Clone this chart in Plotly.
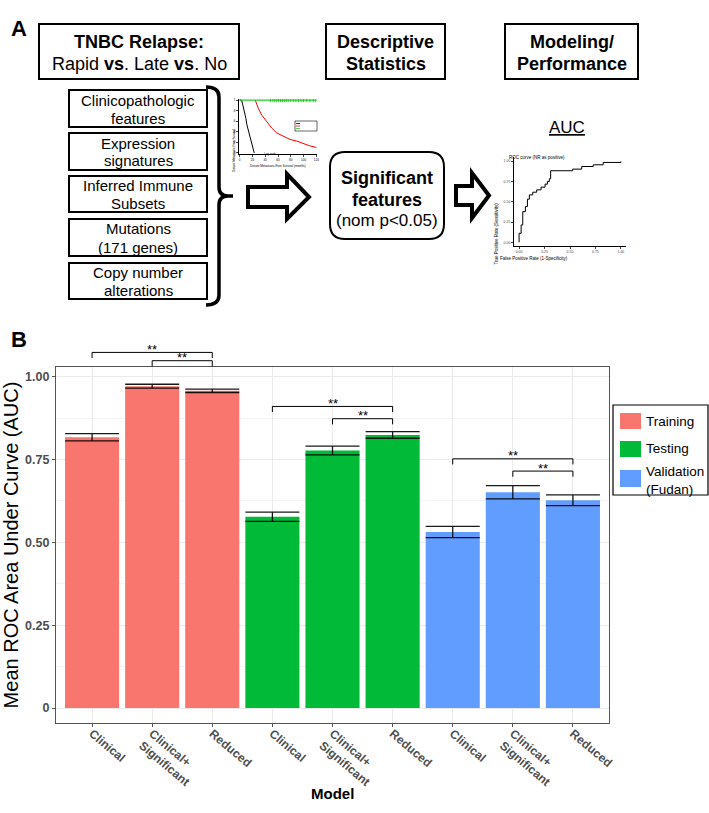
import plotly.graph_objects as go

W, H = 709, 813
FONT = "Liberation Sans, Arial, Helvetica, sans-serif"

# ---------------- Panel B data ----------------
models = ["Clinical", "Clinical+<br>Significant", "Reduced"]
datasets = ["Training", "Testing", "Validation<br>(Fudan)"]
bar_colors = ["#F8766D", "#00BA38", "#619CFF"]
auc_training = [0.817, 0.971, 0.957]
auc_testing = [0.577, 0.777, 0.824]
auc_validation = [0.531, 0.651, 0.627]
err_training = [0.011, 0.006, 0.005]
err_testing = [0.014, 0.013, 0.010]
err_validation = [0.017, 0.020, 0.016]
y_tickvals = [0, 0.25, 0.5, 0.75, 1.0]
y_ticktext = ["0", "0.25", "0.50", "0.75", "1.00"]
y_minor = [0.125, 0.375, 0.625, 0.875]
# significance brackets: left bar, right bar, bracket height, label
sig_left = [0, 1, 3, 4, 6, 7]
sig_right = [2, 2, 5, 5, 8, 8]
sig_y = [1.073, 1.048, 0.910, 0.873, 0.752, 0.715]
sig_label = ["**", "**", "**", "**", "**", "**"]
sig_tip = 0.017

# ---------------- Panel A mini plots data ----------------
km_t_rapid = [0, 3, 5.2, 7.8, 9.8, 11.4, 13.4, 15.5, 19.1, 22.8]
km_s_rapid = [1, 1, 0.896, 0.774, 0.652, 0.53, 0.439, 0.317, 0.195, 0.0]
km_t_late = [24.4, 29.5, 34.7, 42.4, 50.2, 58, 68.3, 78.6, 88.9, 99.4, 109.7, 120]
km_s_late = [1, 0.835, 0.713, 0.591, 0.47, 0.378, 0.317, 0.256, 0.226, 0.177, 0.134, 0.104]
km_t_no = [0, 120]
km_s_no = [1, 1]
km_censor_no = [48, 52, 55, 58, 61, 64, 67, 70, 73, 76, 80, 84, 88, 92, 96, 100, 105, 110, 115, 119]

roc_fpr = [0, 0.02, 0.036, 0.062, 0.082, 0.101, 0.134, 0.173, 0.216, 0.255, 0.278,
           0.297, 0.31, 0.526, 0.615, 0.728, 0.826, 1.0, 1.0]
roc_tpr = [0, 0.111, 0.214, 0.378, 0.44, 0.531, 0.584, 0.617, 0.646, 0.679, 0.716,
           0.749, 0.782, 0.881, 0.901, 0.933, 0.954, 0.983, 0.995]


def px(x):
    return x / W


def py(y):
    return 1 - y / H


def P(x, y):
    return f"{px(x):.5f},{py(y):.5f}"


# main plot geometry
XDOM = [px(56), px(609)]
YDOM = [py(723), py(367)]
YR = [-0.045, 1.029]
XR = [-0.6, 8.6]


def ypaper(v):
    return YDOM[0] + (v - YR[0]) / (YR[1] - YR[0]) * (YDOM[1] - YDOM[0])


fig = go.Figure()

auc_all = [auc_training, auc_testing, auc_validation]
err_all = [err_training, err_testing, err_validation]
for g, (name, col, vals, errs) in enumerate(zip(datasets, bar_colors, auc_all, err_all)):
    xs = [g * len(models) + i for i in range(len(models))]
    fig.add_trace(go.Bar(
        x=xs, y=vals, name=name, marker=dict(color=col, line=dict(width=0)),
        width=0.9, offset=-0.45, xaxis="x", yaxis="y",
        error_y=dict(type="data", array=errs, color="rgba(0,0,0,0.9)",
                     thickness=1.3, width=27),
        showlegend=False,
    ))

# KM mini plot
fig.add_trace(go.Scatter(x=km_t_rapid, y=km_s_rapid, mode="lines",
                         line=dict(color="black", width=1), xaxis="x2", yaxis="y2",
                         showlegend=False, hoverinfo="skip"))
fig.add_trace(go.Scatter(x=km_t_late, y=km_s_late, mode="lines",
                         line=dict(color="red", width=1), xaxis="x2", yaxis="y2",
                         showlegend=False, hoverinfo="skip"))
fig.add_trace(go.Scatter(x=km_t_no, y=km_s_no, mode="lines",
                         line=dict(color="#22cc22", width=1.2), xaxis="x2", yaxis="y2",
                         showlegend=False, hoverinfo="skip"))
fig.add_trace(go.Scatter(x=km_censor_no, y=[1] * len(km_censor_no), mode="markers",
                         marker=dict(symbol="line-ns", size=3, color="#22cc22",
                                     line=dict(width=1, color="#22cc22")),
                         xaxis="x2", yaxis="y2", showlegend=False, hoverinfo="skip"))

# ROC mini plot
fig.add_trace(go.Scatter(x=roc_fpr, y=roc_tpr, mode="lines", line_shape="vh",
                         line=dict(color="black", width=1), xaxis="x3", yaxis="y3",
                         showlegend=False, hoverinfo="skip"))

shapes = []
annos = []

# significance brackets
for l, r, yv, lab in zip(sig_left, sig_right, sig_y, sig_label):
    y1 = ypaper(yv)
    y0 = ypaper(yv - sig_tip)
    shapes.append(dict(type="path", xref="x", yref="paper",
                       path=f"M {l},{y0:.5f} L {l},{y1:.5f} L {r},{y1:.5f} L {r},{y0:.5f}",
                       line=dict(color="black", width=1)))
    annos.append(dict(x=(l + r) / 2, y=y1, xref="x", yref="paper", text=lab,
                      showarrow=False, yanchor="middle", yshift=3,
                      font=dict(size=13, color="black", family=FONT)))

# ---------------- Panel A drawing ----------------
LW = 2


def rect(x0, y0, x1, y1, w=LW, fill="rgba(0,0,0,0)", lc="black"):
    shapes.append(dict(type="rect", xref="paper", yref="paper",
                       x0=px(x0), x1=px(x1), y0=py(y1), y1=py(y0),
                       line=dict(color=lc, width=w), fillcolor=fill))


def text(x, y, t, size, bold=False, anchor="center", align="center"):
    annos.append(dict(x=px(x), y=py(y), xref="paper", yref="paper",
                      text=f"<b>{t}</b>" if bold else t, showarrow=False,
                      xanchor=anchor, yanchor="middle", align=align,
                      font=dict(size=size, color="black", family=FONT)))


rect(39, 24, 239, 79)
rect(326, 24, 445, 79)
rect(505, 24, 638, 79)
text(139, 42, "TNBC Relapse:", 18, bold=True)
text(139, 64, "Rapid <b>vs</b>. Late <b>vs</b>. No", 18)
text(385.5, 42, "Descriptive", 18, bold=True)
text(385.5, 64, "Statistics", 18, bold=True)
text(571.5, 42, "Modeling/", 18, bold=True)
text(571.5, 64, "Performance", 18, bold=True)

small_boxes = [(90, 127), (133, 170), (176, 212), (219, 256), (263, 299)]
small_text = [("Clinicopathologic", "features"), ("Expression", "signatures"),
              ("Inferred Immune", "Subsets"), ("Mutations", "(171 genes)"),
              ("Copy number", "alterations")]
for (y0, y1), (t1, t2) in zip(small_boxes, small_text):
    rect(69, y0, 207, y1)
    c = (y0 + y1) / 2
    text(138, c - 8.5, t1, 15)
    text(138, c + 9.5, t2, 15)

# bracket
shapes.append(dict(type="path", xref="paper", yref="paper",
                   path=(f"M {P(206,87)} Q {P(219,87)} {P(219,97)} L {P(219,187)} "
                         f"Q {P(219,196)} {P(228,196)} L {P(233,196)} "
                         f"M {P(228,196)} Q {P(219,196)} {P(219,205)} L {P(219,295)} "
                         f"Q {P(219,305)} {P(206,305)}"),
                   line=dict(color="black", width=3.5)))


def arrow(pts):
    path = "M " + " L ".join(P(x, y) for x, y in pts) + " Z"
    shapes.append(dict(type="path", xref="paper", yref="paper", path=path,
                       line=dict(color="black", width=4), fillcolor="white"))


arrow([(248, 187), (287, 187), (287, 174), (309, 197), (287, 219), (287, 207), (248, 207)])
arrow([(456, 186), (472, 186), (472, 173), (489, 195.5), (472, 218), (472, 205), (456, 205)])

# rounded box
x0, y0, x1, y1, r = 330, 152, 444, 239, 15
shapes.append(dict(type="path", xref="paper", yref="paper",
                   path=(f"M {P(x0+r,y0)} L {P(x1-r,y0)} Q {P(x1,y0)} {P(x1,y0+r)} "
                         f"L {P(x1,y1-r)} Q {P(x1,y1)} {P(x1-r,y1)} L {P(x0+r,y1)} "
                         f"Q {P(x0,y1)} {P(x0,y1-r)} L {P(x0,y0+r)} Q {P(x0,y0)} {P(x0+r,y0)} Z"),
                   line=dict(color="black", width=2)))
text(387, 178, "Significant", 18, bold=True)
text(387, 199.5, "features", 18, bold=True)
text(387, 221, "(nom p&lt;0.05)", 17)

text(567, 127, "<u>AUC</u>", 17)

# KM mini legend + labels
rect(295, 121, 317, 131, w=0.6)
for yy, cc in [(123.5, "black"), (126, "red"), (128.5, "#22cc22")]:
    shapes.append(dict(type="line", xref="paper", yref="paper", x0=px(296), x1=px(300),
                       y0=py(yy), y1=py(yy), line=dict(color=cc, width=0.8)))
annos.append(dict(x=px(270), y=py(150), xref="paper", yref="paper", text="Log-rank",
                  showarrow=False, font=dict(size=3, color="black", family=FONT)))
annos.append(dict(x=px(278), y=py(162), xref="paper", yref="paper",
                  text="Distant Metastasis-Free Survival (months)", showarrow=False,
                  font=dict(size=3, color="black", family=FONT)))
annos.append(dict(x=px(230), y=py(126), xref="paper", yref="paper",
                  text="Distant Metastasis-Free Survival", showarrow=False, textangle=-90,
                  font=dict(size=3, color="black", family=FONT)))

# ROC labels
annos.append(dict(x=px(567), y=py(153), xref="paper", yref="paper",
                  text="ROC curve (NR as positive)", showarrow=False,
                  font=dict(size=4.5, color="black", family=FONT)))
annos.append(dict(x=px(570), y=py(254), xref="paper", yref="paper",
                  text="False Positive Rate (1-Specificity)", showarrow=False,
                  font=dict(size=4.5, color="black", family=FONT)))
annos.append(dict(x=px(501), y=py(201), xref="paper", yref="paper",
                  text="True Positive Rate (Sensitivity)", showarrow=False, textangle=-90,
                  font=dict(size=4.5, color="black", family=FONT)))

# panel letters
annos.append(dict(x=px(9), y=py(14), xref="paper", yref="paper", text="<b>A</b>",
                  showarrow=False, xanchor="left", font=dict(size=22, color="black", family=FONT)))
annos.append(dict(x=px(9), y=py(339), xref="paper", yref="paper", text="<b>B</b>",
                  showarrow=False, xanchor="left", font=dict(size=22, color="black", family=FONT)))

# x-axis title
annos.append(dict(x=(XDOM[0] + XDOM[1]) / 2, y=py(804), xref="paper", yref="paper",
                  text="<b>Model</b>", showarrow=False,
                  font=dict(size=15, color="black", family=FONT)))

# legend (drawn from the dataset names / colours)
rect(613, 405, 708, 495, w=1.2)
key_y = [(413, 429), (441, 457), (470, 487)]
for (ky0, ky1), name, col in zip(key_y, datasets, bar_colors):
    rect(620, ky0, 641, ky1, w=0, fill=col)
    nlines = name.count("<br>") + 1
    text(644, (ky0 + ky1) / 2 + (1.5 if nlines > 1 else 0), name, 13.5,
         anchor="left", align="left")

fig.update_layout(
    width=W, height=H, margin=dict(l=0, r=0, t=0, b=0, autoexpand=False),
    paper_bgcolor="white", plot_bgcolor="white",
    font=dict(family=FONT, color="black"),
    barmode="overlay", showlegend=False, shapes=shapes, annotations=annos,
    xaxis=dict(domain=XDOM, range=XR, tickmode="array",
               tickvals=list(range(9)), ticktext=models * 3, tickangle=40,
               tickfont=dict(size=12, color="#4d4d4d", family=FONT, weight="bold"),
               ticklabelstandoff=-5,
               showgrid=True, gridcolor="#ebebeb", gridwidth=1,
               showline=True, linecolor="#555", linewidth=1.2, mirror=True,
               ticks="outside", ticklen=3, tickcolor="#555", zeroline=False,
               anchor="y", automargin=False),
    yaxis=dict(domain=YDOM, range=YR, tickmode="array", tickvals=y_tickvals,
               ticktext=y_ticktext,
               tickfont=dict(size=12.5, color="#4d4d4d", family=FONT, weight="bold"),
               showgrid=True, gridcolor="#ebebeb", gridwidth=1,
               minor=dict(tickvals=y_minor, showgrid=True, gridcolor="#f4f4f4", gridwidth=1),
               showline=True, linecolor="#555", linewidth=1.2, mirror=True,
               ticks="outside", ticklen=3, tickcolor="#555", zeroline=False,
               title=dict(text="Mean ROC Area Under Curve (AUC)", standoff=5,
                          font=dict(size=20, color="black", family=FONT)),
               anchor="x", automargin=False),
    xaxis2=dict(domain=[px(239), px(317)], range=[-1, 121], anchor="y2",
                showgrid=False, zeroline=False, showline=True, linecolor="black",
                linewidth=0.8, ticks="outside", ticklen=2, tickwidth=0.6,
                tickvals=[0, 20, 40, 60, 80, 100, 120],
                tickfont=dict(size=3, color="black"), automargin=False),
    yaxis2=dict(domain=[py(154), py(99)], range=[-0.02, 1.02], anchor="x2",
                showgrid=False, zeroline=False, showline=True, linecolor="black",
                linewidth=0.8, ticks="outside", ticklen=2, tickwidth=0.6,
                tickvals=[0, 0.2, 0.4, 0.6, 0.8, 1.0],
                ticktext=["0", ".2", ".4", ".6", ".8", "1"],
                tickfont=dict(size=3, color="black"), automargin=False),
    xaxis3=dict(domain=[px(514), px(626)], range=[-0.05, 1.05], anchor="y3",
                showgrid=False, zeroline=False, showline=True, linecolor="black",
                linewidth=0.8, ticks="outside", ticklen=2, tickwidth=0.6,
                tickvals=[0, 0.25, 0.5, 0.75, 1.0],
                ticktext=["0.00", "0.25", "0.50", "0.75", "1.00"],
                tickfont=dict(size=3.5, color="#444"), automargin=False),
    yaxis3=dict(domain=[py(246), py(157)], range=[-0.045, 1.05], anchor="x3",
                showgrid=False, zeroline=False, showline=True, linecolor="black",
                linewidth=0.8, ticks="outside", ticklen=2, tickwidth=0.6,
                tickvals=[0, 0.25, 0.5, 0.75, 1.0],
                ticktext=["0.00", "0.25", "0.50", "0.75", "1.00"],
                tickfont=dict(size=3.5, color="#444"), automargin=False),
)

# remove the default 8px page margin so the 709x813 figure fills the window exactly
fig.write_html("out.html",
               config={"displayModeBar": False},
               post_script="document.body.style.margin='0px';"
                           "document.body.style.overflow='hidden';")
